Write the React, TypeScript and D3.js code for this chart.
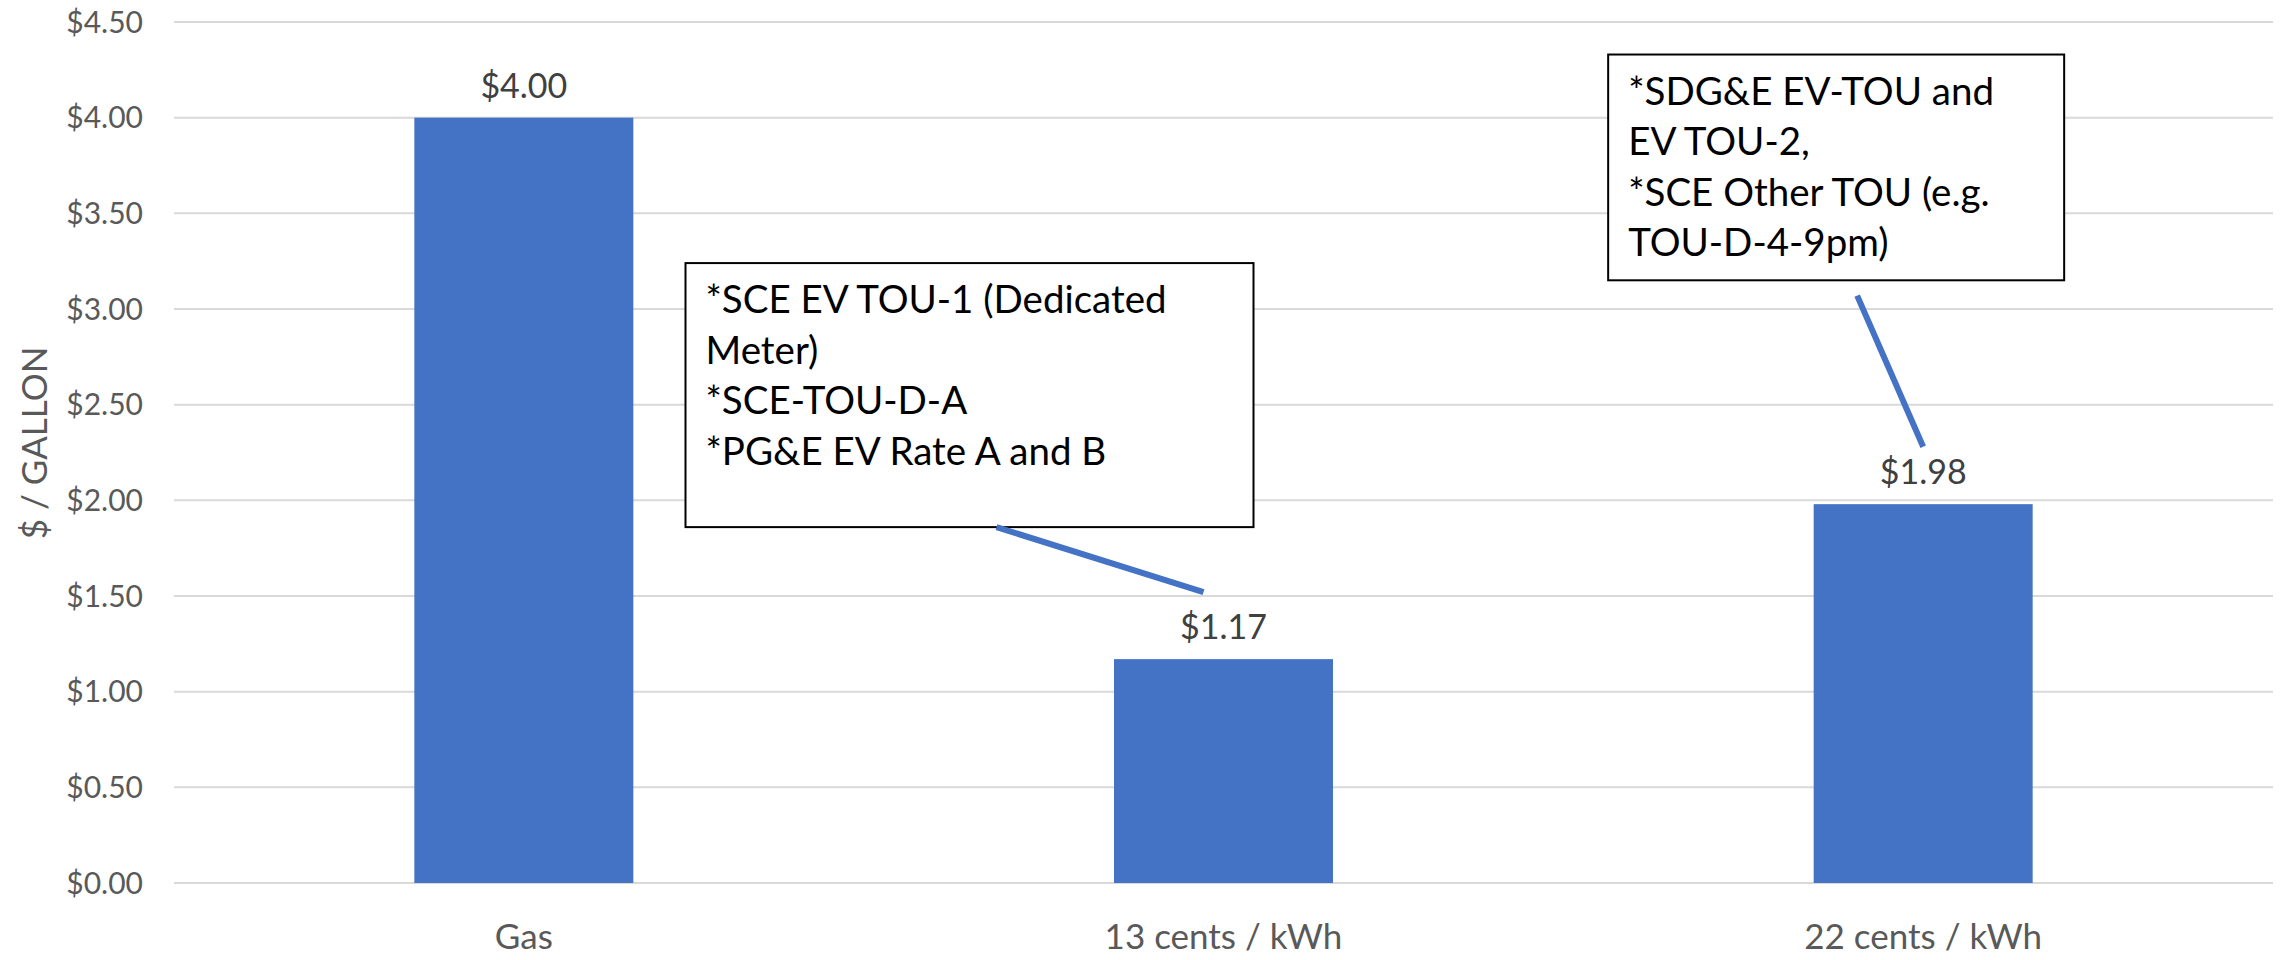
import React from "react";
import * as d3 from "d3";

// chart data
const categories = ["Gas", "13 cents / kWh", "22 cents / kWh"];
const prices = [4.0, 1.17, 1.98];
const yTicks = [0, 0.5, 1, 1.5, 2, 2.5, 3, 3.5, 4, 4.5];

// callout text, one entry per annotated bar
const noteBars = ["13 cents / kWh", "22 cents / kWh"];
const noteLines = [
  ["*SCE EV TOU-1 (Dedicated", "Meter)", "*SCE-TOU-D-A", "*PG&E EV Rate A and B"],
  ["*SDG&E EV-TOU and", "EV TOU-2,", "*SCE Other TOU (e.g.", "TOU-D-4-9pm)"],
];

const W = 2280;
const H = 960;
const FONT = "Lato, 'Open Sans', sans-serif";
const BLUE = "#4472C4";

export default function App() {
  const x = d3
    .scaleBand()
    .domain(categories)
    .range([174, 2273])
    .paddingInner(0.687)
    .paddingOuter(0.3435);

  const y = d3.scaleLinear().domain([0, 4.5]).range([883, 22]);
  const fmt = d3.format("$.2f");

  // callout boxes placed relative to their bar centre and the y scale
  const boxes = [
    { dx: -538, w: 568, top: y(3.24), bottom: y(1.86), line: [-227, y(1.86), -20, y(1.52)] },
    { dx: -315, w: 456, top: y(4.33), bottom: y(3.15), line: [-66, y(3.07), 0, y(2.28)] },
  ];

  return (
    <svg
      width={W}
      height={H}
      style={{ position: "absolute", left: 0, top: 0, background: "#fff" }}
      fontFamily={FONT}
    >
      {/* gridlines */}
      {yTicks.map((t) => (
        <line key={t} x1={174} x2={2273} y1={y(t)} y2={y(t)} stroke="#D9D9D9" strokeWidth={2} />
      ))}

      {/* y tick labels */}
      {yTicks.map((t) => (
        <text
          key={"l" + t}
          x={143}
          y={y(t)}
          dy="0.36em"
          textAnchor="end"
          fontSize={30}
          fill="#595959"
        >
          {fmt(t)}
        </text>
      ))}

      {/* y axis title */}
      <text
        transform={`translate(34,${y(2.3)}) rotate(-90)`}
        textAnchor="middle"
        dy="0.36em"
        fontSize={35}
        fill="#595959"
      >
        $ / GALLON
      </text>

      {/* bars */}
      {categories.map((c, i) => (
        <rect
          key={c}
          x={x(c)}
          y={y(prices[i])}
          width={x.bandwidth()}
          height={y(0) - y(prices[i])}
          fill={BLUE}
        />
      ))}

      {/* value labels */}
      {categories.map((c, i) => (
        <text
          key={"v" + c}
          x={(x(c) as number) + x.bandwidth() / 2}
          y={y(prices[i]) - 20}
          textAnchor="middle"
          fontSize={34}
          fill="#404040"
        >
          {fmt(prices[i])}
        </text>
      ))}

      {/* category labels */}
      {categories.map((c) => (
        <text
          key={"c" + c}
          x={(x(c) as number) + x.bandwidth() / 2}
          y={949}
          textAnchor="middle"
          fontSize={35}
          fill="#595959"
        >
          {c}
        </text>
      ))}

      {/* callouts */}
      {noteBars.map((c, i) => {
        const cx = (x(c) as number) + x.bandwidth() / 2;
        const b = boxes[i];
        const left = cx + b.dx;
        return (
          <g key={"n" + c}>
            <rect
              x={left}
              y={b.top}
              width={b.w}
              height={b.bottom - b.top}
              fill="#fff"
              stroke="#000"
              strokeWidth={2}
            />
            {noteLines[i].map((t, j) => (
              <text key={j} x={left + 20} y={b.top + 50 + j * 50.5} fontSize={38.5} fill="#000">
                {t}
              </text>
            ))}
            <line
              x1={cx + b.line[0]}
              y1={b.line[1]}
              x2={cx + b.line[2]}
              y2={b.line[3]}
              stroke={BLUE}
              strokeWidth={6}
            />
          </g>
        );
      })}
    </svg>
  );
}
